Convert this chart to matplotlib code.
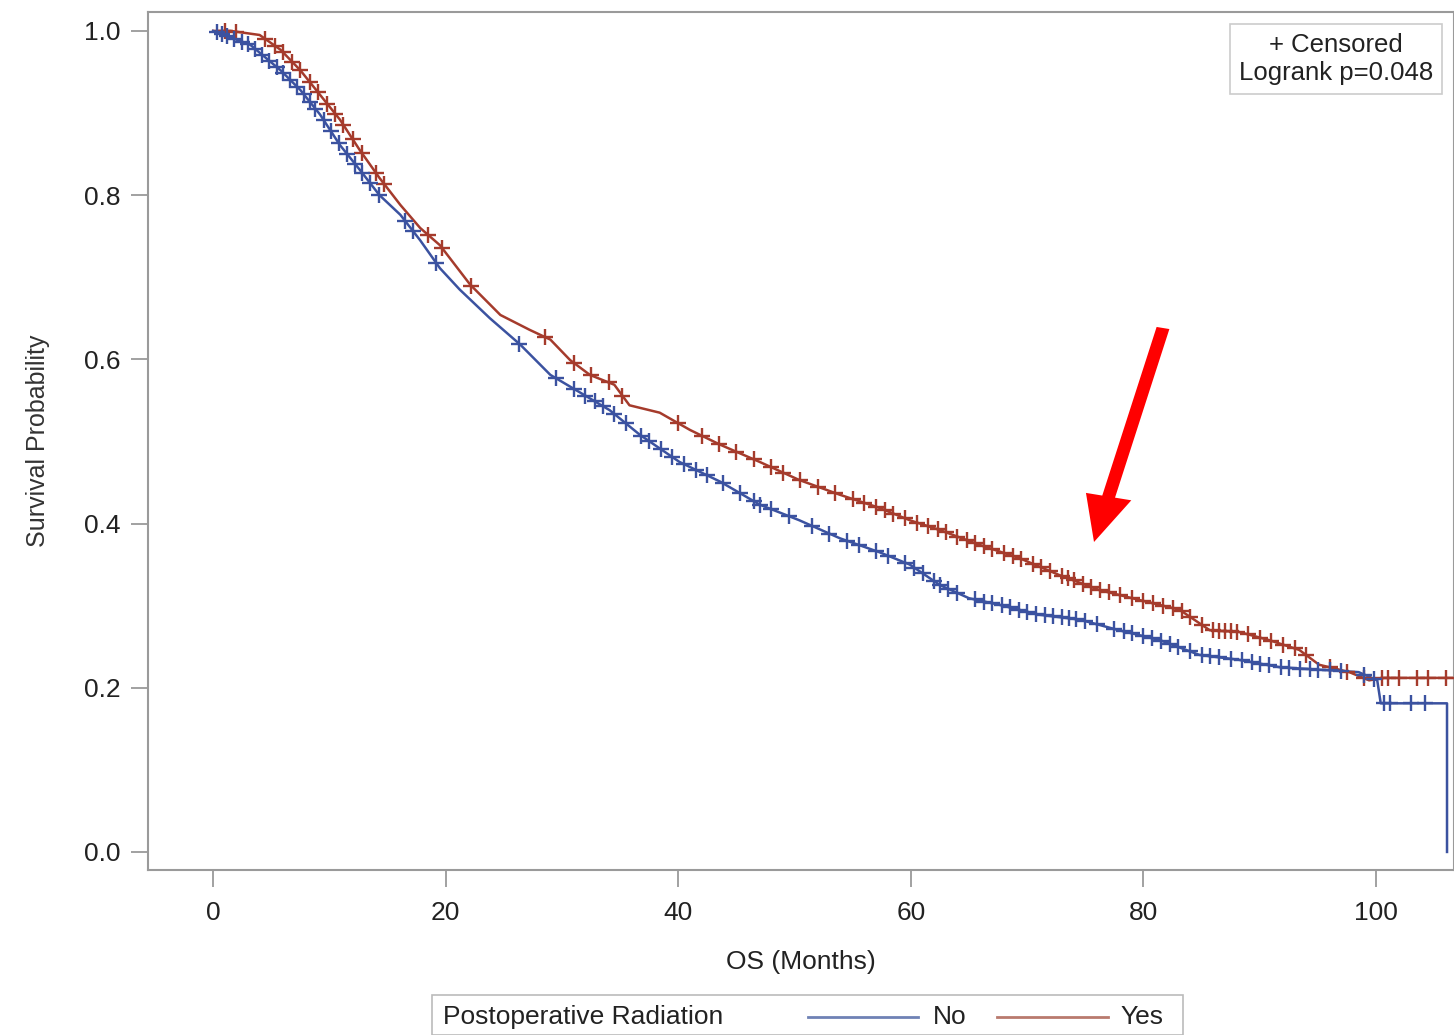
import numpy as np
import matplotlib
matplotlib.use("Agg")
import matplotlib.pyplot as plt
from matplotlib.patches import FancyArrow, Rectangle

plt.rcParams['font.family'] = ['Liberation Sans', 'DejaVu Sans']

# ---- data ----
no_time = [0, 3.2, 5.8, 7.5, 9.2, 10.9, 12.6, 14.3, 16.1, 17.8, 19.5, 21.2, 23.8, 26.4, 29.0,
           31.5, 34.1, 36.7, 40.1, 43.6, 47.0, 50.4, 53.9, 57.3, 59.9, 62.5, 65.0, 67.6, 71.0,
           74.5, 77.9, 81.4, 84.8, 88.2, 91.7, 95.1, 98.5, 100.1, 100.4, 106.1, 106.1]
no_surv = [1.0, 0.983, 0.952, 0.928, 0.898, 0.861, 0.831, 0.800, 0.776, 0.745, 0.711, 0.685,
           0.650, 0.618, 0.581, 0.560, 0.538, 0.508, 0.475, 0.451, 0.423, 0.404, 0.382, 0.365,
           0.350, 0.325, 0.309, 0.301, 0.289, 0.283, 0.270, 0.258, 0.240, 0.234, 0.225, 0.222,
           0.219, 0.209, 0.181, 0.181, 0.0]

yes_time = [0, 1.5, 4.0, 5.8, 7.5, 9.2, 10.9, 12.6, 14.3, 16.1, 17.8, 19.5, 22.1, 24.7, 27.2,
            29.0, 30.7, 32.4, 34.5, 35.8, 38.4, 41.0, 43.6, 47.0, 50.4, 53.9, 57.3, 59.9, 62.5,
            65.9, 69.3, 72.8, 76.2, 79.6, 83.1, 85.7, 88.2, 90.8, 93.4, 95.1, 97.7, 99.4, 100.7,
            106.6]
yes_surv = [1.0, 1.0, 0.995, 0.977, 0.952, 0.922, 0.892, 0.855, 0.821, 0.788, 0.760, 0.739,
            0.691, 0.654, 0.636, 0.624, 0.599, 0.581, 0.569, 0.544, 0.535, 0.514, 0.496, 0.475,
            0.453, 0.435, 0.419, 0.404, 0.392, 0.374, 0.358, 0.337, 0.319, 0.307, 0.295, 0.270,
            0.268, 0.258, 0.246, 0.228, 0.219, 0.209, 0.212, 0.212]

no_censor = [0.3, 0.8, 1.2, 1.8, 2.5, 3.0, 3.6, 4.2, 4.8, 5.5, 6.0, 6.6, 7.2, 7.8, 8.3, 8.8, 9.5,
             10.1, 10.8, 11.5, 12.2, 12.8, 13.5, 14.3, 16.5, 17.2, 19.2, 26.3, 29.5, 31.0, 32.0,
             32.8, 33.5, 34.5, 35.5, 36.8, 37.5, 38.5, 39.5, 40.5, 41.5, 42.5, 43.8, 45.3, 46.5,
             47.0, 48.0, 49.5, 51.5, 53.0, 54.5, 55.5, 57.0, 58.0, 59.5, 60.3, 61.0, 62.0, 62.5,
             63.2, 64.0, 65.5, 66.3, 67.0, 67.8, 68.5, 69.3, 70.0, 70.8, 71.5, 72.2, 73.0, 73.6,
             74.2, 75.0, 76.0, 77.5, 78.3, 79.0, 80.0, 80.7, 81.5, 82.3, 83.0, 84.0, 85.0, 85.7,
             86.5, 87.5, 88.5, 89.3, 90.0, 90.8, 91.8, 92.5, 93.5, 94.3, 95.0, 96.0, 97.0, 99.0,
             99.8, 100.7, 101.2, 103.0, 104.2]
yes_censor = [1.0, 2.0, 4.5, 5.3, 6.0, 6.8, 7.5, 8.3, 9.0, 9.8, 10.5, 11.2, 12.0, 12.8, 14.0,
              14.7, 18.5, 19.7, 22.2, 28.5, 31.0, 32.5, 34.0, 35.2, 40.0, 42.0, 43.5, 45.0, 46.5,
              48.0, 49.0, 50.5, 52.0, 53.5, 55.0, 56.0, 57.0, 57.8, 58.5, 59.5, 60.5, 61.5, 62.3,
              63.0, 64.0, 64.8, 65.5, 66.3, 67.0, 68.0, 68.8, 69.5, 70.5, 71.2, 72.0, 73.0, 73.5,
              74.0, 74.8, 75.5, 76.3, 77.0, 78.0, 79.0, 80.0, 80.8, 81.7, 82.5, 83.3, 84.0, 85.0,
              86.0, 86.5, 87.0, 87.5, 88.0, 89.0, 90.0, 91.0, 92.0, 93.0, 94.0, 96.0, 97.5, 99.0,
              100.5, 101.0, 102.0, 103.5, 104.5, 106.0]

x_ticks = [0, 20, 40, 60, 80, 100]
y_ticks = [0.0, 0.2, 0.4, 0.6, 0.8, 1.0]
group_labels = ["No", "Yes"]
legend_title = "Postoperative Radiation"
pvalue_text = "Logrank p=0.048"

# ---- drawing ----
W, H = 1454, 1035
fig = plt.figure(figsize=(W / 100, H / 100), dpi=100)
fig.patch.set_facecolor("white")

def fx(px):
    return px / W

def fy(py):
    return 1 - py / H

ax = fig.add_axes([fx(148), fy(870), fx(1454) - fx(148), fy(12) - fy(870)])
ax.set_xlim(-5.6, 106.7)
ax.set_ylim(-0.022, 1.023)

c_no = "#3b52a0"
c_yes = "#a53b2c"

ax.plot(no_time, no_surv, color=c_no, lw=1.8, zorder=3)
ax.plot(yes_time, yes_surv, color=c_yes, lw=1.8, zorder=2)

def censor_y(times, t, s):
    # survival at each censor time, looked up on the curve
    t = np.asarray(t, float)
    s = np.asarray(s, float)
    keep = np.r_[True, np.diff(t) > 0]
    return np.interp(times, t[keep], s[keep])

ax.plot(no_censor, censor_y(no_censor, no_time[:-1], no_surv[:-1]), ls="none", marker="+",
        ms=11, mew=1.7, color=c_no, zorder=4)
ax.plot(yes_censor, censor_y(yes_censor, yes_time, yes_surv), ls="none", marker="+",
        ms=11, mew=1.7, color=c_yes, zorder=3)

for sp in ax.spines.values():
    sp.set_color("#9a9a9a")
    sp.set_linewidth(1.5)

ax.set_xticks(x_ticks)
ax.set_xticklabels([str(v) for v in x_ticks])
ax.set_yticks(y_ticks)
ax.set_yticklabels([f"{v:.1f}" for v in y_ticks])
ax.tick_params(axis="both", direction="out", length=12, width=1.3, color="#9a9a9a",
               labelsize=19, labelcolor="#222222", pad=10)
ax.tick_params(axis="y", pad=8)

ax.set_xlabel("OS (Months)", fontsize=19, color="#222222", labelpad=18)
ax.set_ylabel("Survival Probability", fontsize=18, color="#333333", labelpad=24)

# inset box
ax.text(0.984, 0.975, "+ Censored\n" + pvalue_text, transform=ax.transAxes,
        ha="right", va="top", fontsize=18.5, color="#222222", linespacing=1.2,
        multialignment="center",
        bbox=dict(boxstyle="square,pad=0.35", fc="white", ec="#cccccc", lw=1.2))

# bottom legend
fig.patches.append(Rectangle((fx(432), fy(1035)), fx(1183) - fx(432), fy(995) - fy(1035),
                             transform=fig.transFigure, fc="white", ec="#bbbbbb", lw=1.2))
fig.text(fx(443), fy(1017), legend_title, fontsize=19, color="#222222", va="center", ha="left")
fig.add_artist(plt.Line2D([fx(808), fx(918)], [fy(1017), fy(1017)], transform=fig.transFigure,
                          color="#6f82b5", lw=2))
fig.text(fx(933), fy(1017), group_labels[0], fontsize=19, color="#222222", va="center", ha="left")
fig.add_artist(plt.Line2D([fx(997), fx(1108)], [fy(1017), fy(1017)], transform=fig.transFigure,
                          color="#b97a6e", lw=2))
fig.text(fx(1120), fy(1017), group_labels[1], fontsize=19, color="#222222", va="center", ha="left")

# red arrow annotation
tail = (fx(1163), fy(328))
tip = (fx(1094), fy(542))
fig.add_artist(FancyArrow(tail[0], tail[1], tip[0] - tail[0], tip[1] - tail[1],
                          width=0.009, head_width=0.032, head_length=0.045,
                          length_includes_head=True, color="#ff0000", ec="none",
                          transform=fig.transFigure))

fig.savefig("out.png", dpi=100)
